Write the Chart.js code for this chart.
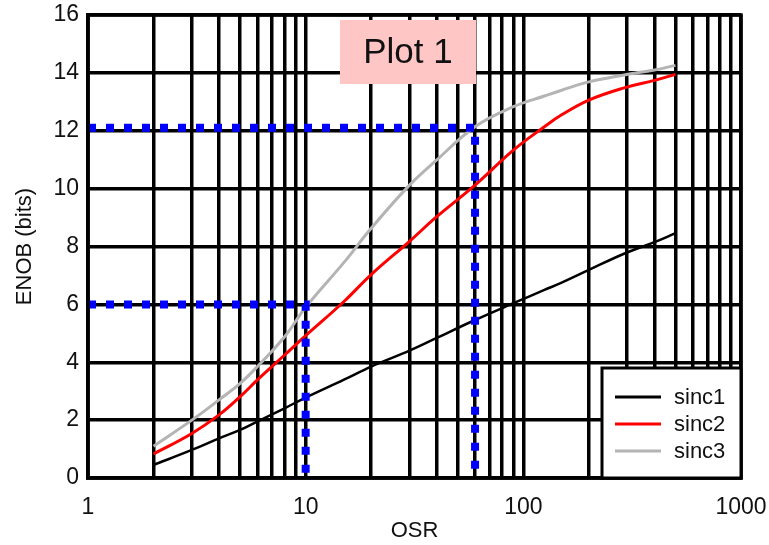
<!DOCTYPE html>
<html>
<head>
<meta charset="utf-8">
<script src="https://cdn.jsdelivr.net/npm/chart.js@4/dist/chart.umd.min.js"></script>
<style>
html, body { margin: 0; padding: 0; background: #fff; }
</style>
</head>
<body>
<canvas id="c" width="769" height="545"></canvas>
<script>
// 数据
const osr   = [2, 3, 4, 5, 6, 8, 10, 15, 20, 30, 40, 60, 90, 125, 150, 200, 290, 400, 500];
const sinc1 = [0.45, 0.97, 1.37, 1.66, 1.95, 2.41, 2.78, 3.4, 3.85, 4.4, 4.84, 5.46, 6.04, 6.5, 6.75, 7.19, 7.75, 8.15, 8.46];
const sinc2 = [0.83, 1.54, 2.18, 2.81, 3.39, 4.25, 4.92, 6.1, 7.03, 8.18, 9.03, 10.12, 11.33, 12.14, 12.55, 13.06, 13.48, 13.74, 13.95];
const sinc3 = [1.1, 2.0, 2.7, 3.27, 3.85, 4.88, 5.9, 7.45, 8.63, 10.12, 10.99, 12.14, 12.83, 13.2, 13.4, 13.69, 13.93, 14.1, 14.26];

// 蓝色虚线标记
const guideA = [[1, 12.1], [60, 12.1], [60, 0]];
const guideB = [[1, 6], [10, 6], [10, 0]];

const yTicks = [0, 2, 4, 6, 8, 10, 12, 14, 16];
const xDecades = [1, 10, 100, 1000];

const seriesNames = ['sinc1', 'sinc2', 'sinc3'];
const seriesColors = ['#000000', '#ff0000', '#b4b4b4'];

const FONT = "'Liberation Sans', Arial, Helvetica, sans-serif";
Chart.defaults.font.family = FONT;
Chart.defaults.color = '#111';

const toPts = (xs, ys) => xs.map((x, i) => ({ x: x, y: ys[i] }));
const pairPts = arr => arr.map(p => ({ x: p[0], y: p[1] }));

function curve(label, ys, color, width) {
    return {
        label: label,
        data: toPts(osr, ys),
        borderColor: color,
        borderWidth: width,
        pointRadius: 0,
        fill: false,
        tension: 0.4,
        order: 1
    };
}

function guide(pts) {
    return {
        label: '',
        data: pairPts(pts),
        borderColor: '#0000ff',
        borderWidth: 8,
        borderDash: [8, 10],
        borderCapStyle: 'butt',
        pointRadius: 0,
        tension: 0,
        fill: false,
        order: 0
    };
}

// 不让刻度标签挤占绘图区
function noPad(scale) {
    scale.paddingTop = 0;
    scale.paddingBottom = 0;
    scale.paddingLeft = 0;
    scale.paddingRight = 0;
}

// 图框、标题框和图例
const decorPlugin = {
    id: 'decor',
    afterDatasetsDraw(chart) {
        const ctx = chart.ctx;
        const a = chart.chartArea;
        ctx.save();

        // 外框
        ctx.strokeStyle = '#000';
        ctx.lineWidth = 3.5;
        ctx.strokeRect(a.left, a.top, a.right - a.left, a.bottom - a.top);

        // "Plot 1" 标签
        const bx = a.left + 252, by = a.top + 5, bw = 136, bh = 64;
        ctx.fillStyle = '#ffc6c6';
        ctx.fillRect(bx, by, bw, bh);
        ctx.fillStyle = '#111';
        ctx.font = '35px ' + FONT;
        ctx.textAlign = 'center';
        ctx.textBaseline = 'middle';
        ctx.fillText('Plot 1', bx + bw / 2, by + bh / 2 + 1);

        // 图例
        const lw = 139, lh = 110;
        const lx = a.right - lw, ly = a.bottom - lh;
        ctx.fillStyle = '#fff';
        ctx.fillRect(lx, ly, lw, lh);
        ctx.strokeStyle = '#000';
        ctx.lineWidth = 3;
        ctx.strokeRect(lx, ly, lw, lh);
        ctx.font = '22px ' + FONT;
        ctx.textAlign = 'left';
        seriesNames.forEach((name, i) => {
            const yy = ly + 29 + i * 27;
            ctx.strokeStyle = seriesColors[i];
            ctx.lineWidth = 3;
            ctx.beginPath();
            ctx.moveTo(lx + 13, yy);
            ctx.lineTo(lx + 59, yy);
            ctx.stroke();
            ctx.fillStyle = '#111';
            ctx.fillText(name, lx + 72, yy + 1);
        });
        ctx.restore();
    }
};

new Chart(document.getElementById('c'), {
    type: 'line',
    data: {
        datasets: [
            guide(guideA),
            guide(guideB),
            curve(seriesNames[0], sinc1, seriesColors[0], 2.5),
            curve(seriesNames[1], sinc2, seriesColors[1], 3),
            curve(seriesNames[2], sinc3, seriesColors[2], 3)
        ]
    },
    options: {
        responsive: false,
        animation: false,
        layout: { padding: { left: 0, right: 28, top: 15, bottom: 0 } },
        plugins: {
            legend: { display: false },
            tooltip: { enabled: false }
        },
        scales: {
            x: {
                type: 'logarithmic',
                min: 1,
                max: 1000,
                afterBuildTicks(scale) {
                    const t = [];
                    xDecades.forEach(d => {
                        if (d === 1000) { t.push({ value: d }); return; }
                        for (let k = 1; k <= 9; k++) t.push({ value: k * d });
                    });
                    scale.ticks = t;
                },
                afterFit(scale) { scale.height = 67; noPad(scale); },
                ticks: {
                    autoSkip: false,
                    maxRotation: 0,
                    padding: 16,
                    font: { size: 23 },
                    callback: v => xDecades.includes(v) ? String(v) : ''
                },
                grid: { color: '#000', lineWidth: 3.5, drawTicks: false },
                border: { color: '#000', width: 3.5 },
                title: { display: true, text: 'OSR', font: { size: 22 }, padding: { top: 0, bottom: 1 } }
            },
            y: {
                min: 0,
                max: 16,
                afterBuildTicks(scale) {
                    scale.ticks = yTicks.map(v => ({ value: v }));
                },
                afterFit(scale) { scale.width = 88; noPad(scale); },
                ticks: { padding: 9, font: { size: 23 } },
                grid: { color: '#000', lineWidth: 3.5, drawTicks: false },
                border: { color: '#000', width: 3.5 },
                title: { display: true, text: 'ENOB (bits)', font: { size: 22 }, padding: { top: 12, bottom: 0 } }
            }
        }
    },
    plugins: [decorPlugin]
});
</script>
</body>
</html>
